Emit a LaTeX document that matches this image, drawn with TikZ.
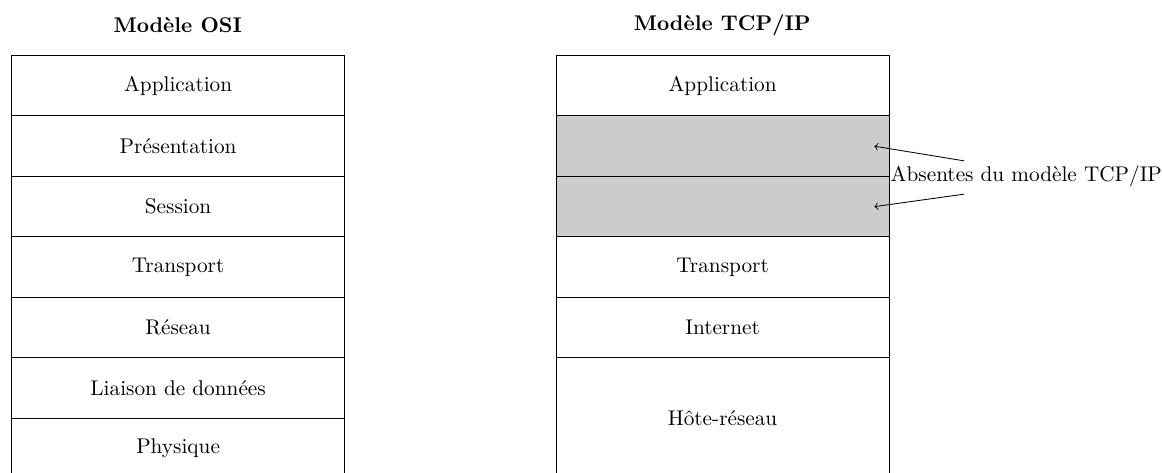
\documentclass[tikz,border=0pt]{standalone}
\begin{document}
\begin{tikzpicture}[
  layer/.style={draw, minimum width=5.5cm, minimum height=1cm, inner sep=0pt, anchor=north west},
  absent/.style={layer, fill=gray!40},
  title/.style={font=\bfseries},
  note/.style={anchor=west, inner sep=0.8pt},
  pointer/.style={->}
]
\useasboundingbox (-0.187,0.909) rectangle (19.02,-6.893);
% OSI model
\node[title] (t1) at (2.75,0.5) {Modèle OSI};
\node[layer] (app1) at (0,0) {Application};
\node[layer] (pres1) at (0,-1) {Présentation};
\node[layer] (sess1) at (0,-2) {Session};
\node[layer] (trans1) at (0,-3) {Transport};
\node[layer] (res1) at (0,-4) {Réseau};
\node[layer] (liai1) at (0,-5) {Liaison de données};
\node[layer] (phys1) at (0,-6) {Physique};
% TCP/IP model
\node[title] (t2) at (11.75,0.5) {Modèle TCP/IP};
\node[layer] (app2) at (9,0) {Application};
\node[absent] (pres2) at (9,-1) {};
\node[absent] (sess2) at (9,-2) {};
\node[layer] (trans2) at (9,-3) {Transport};
\node[layer] (inet2) at (9,-4) {Internet};
\node[layer, minimum height=2cm] (hote2) at (9,-5) {Hôte-réseau};
% note
\node[note] (lbl) at (14.5,-2) {Absentes du modèle TCP/IP};
\coordinate (s1) at (15.75,-1.75);
\coordinate (s2) at (15.75,-2.3);
\draw[pointer] (s1) -- ([xshift=-0.25cm]pres2.east);
\draw[pointer] (s2) -- ([xshift=-0.25cm]sess2.east);
\end{tikzpicture}
\end{document}
